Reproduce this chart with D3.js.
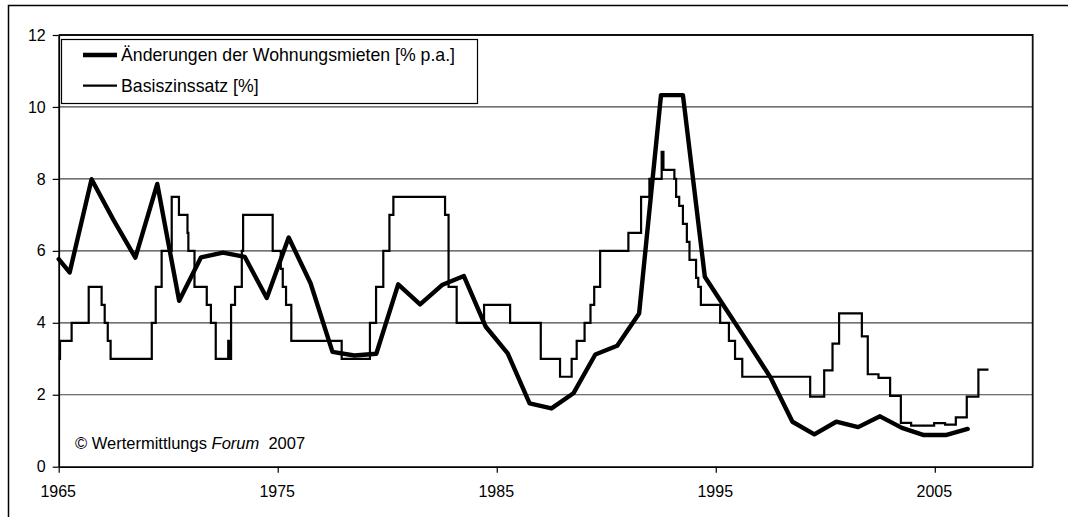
<!DOCTYPE html>
<html>
<head>
<meta charset="utf-8">
<script src="https://cdn.jsdelivr.net/npm/d3@7"></script>
<style>
  html, body { margin: 0; padding: 0; background: #fff; }
  svg { display: block; font-family: "Liberation Sans", Arial, sans-serif; }
</style>
</head>
<body>
<svg id="chart" width="1068" height="517"></svg>
<script>
// ---- Data ----
// Änderungen der Wohnungsmieten [% p.a.]
const rentYears = [1965.0, 1965.5, 1966.5, 1967.5, 1968.5, 1969.5, 1970.5, 1971.5, 1972.5, 1973.5,
  1974.5, 1975.5, 1976.5, 1977.5, 1978.5, 1979.5, 1980.5, 1981.5, 1982.5, 1983.5,
  1984.5, 1985.5, 1986.5, 1987.5, 1988.5, 1989.5, 1990.5, 1991.5, 1992.5, 1993.5,
  1994.5, 1995.5, 1996.5, 1997.5, 1998.5, 1999.5, 2000.5, 2001.5, 2002.5, 2003.5,
  2004.5, 2005.5, 2006.5];
const rentValues = [5.77, 5.40, 7.99, 6.86, 5.81, 7.86, 4.61, 5.82, 5.95, 5.83,
  4.69, 6.37, 5.10, 3.19, 3.09, 3.14, 5.07, 4.51, 5.05, 5.30,
  3.89, 3.15, 1.76, 1.62, 2.04, 3.12, 3.36, 4.26, 10.33, 10.33,
  5.28, 4.35, 3.42, 2.48, 1.25, 0.90, 1.25, 1.10, 1.40, 1.08,
  0.88, 0.88, 1.05];

// Basiszinssatz [%] (step series: value valid from date)
const rateDates = [1965.00, 1965.06, 1965.59, 1966.37, 1966.96, 1967.10, 1967.24, 1967.37, 1969.25, 1969.43,
  1969.70, 1970.16, 1970.49, 1970.88, 1970.92, 1971.20, 1971.76, 1971.95, 1972.17, 1972.74,
  1972.79, 1972.87, 1973.05, 1973.36, 1973.42, 1974.77, 1975.14, 1975.23, 1975.38, 1975.62,
  1977.92, 1979.21, 1979.49, 1979.82, 1980.10, 1980.28, 1982.64, 1982.80, 1983.17, 1984.42,
  1985.61, 1987.01, 1987.89, 1988.42, 1988.65, 1989.01, 1989.28, 1989.45, 1989.72, 1991.01,
  1991.59, 1991.97, 1992.53, 1992.61, 1993.11, 1993.19, 1993.33, 1993.50, 1993.68, 1993.80,
  1994.10, 1994.20, 1994.32, 1995.20, 1995.60, 1995.88, 1996.21, 1999.31, 1999.95, 2000.33,
  2000.63, 2001.67, 2001.94, 2002.43, 2002.96, 2003.45, 2003.92, 2004.97, 2005.47, 2005.96,
  2006.46, 2006.99, 2007.45];
const rateValues = [3.0, 3.5, 4.0, 5.0, 4.5, 4.0, 3.5, 3.0, 4.0, 5.0,
  6.0, 7.5, 7.0, 6.5, 6.0, 5.0, 4.5, 4.0, 3.0, 3.5,
  3.0, 4.5, 5.0, 6.0, 7.0, 6.0, 5.5, 5.0, 4.5, 3.5,
  3.0, 4.0, 5.0, 6.0, 7.0, 7.5, 7.0, 5.0, 4.0, 4.5,
  4.0, 3.0, 2.5, 3.0, 3.5, 4.0, 4.5, 5.0, 6.0, 6.5,
  7.5, 8.0, 8.75, 8.25, 8.0, 7.5, 7.25, 6.75, 6.25, 5.75,
  5.25, 5.0, 4.5, 4.0, 3.5, 3.0, 2.5, 1.95, 2.68, 3.42,
  4.26, 3.62, 2.57, 2.47, 1.97, 1.22, 1.14, 1.21, 1.17, 1.37,
  1.95, 2.70, 2.70];

const xTickYears = [1965, 1975, 1985, 1995, 2005];
const yTickValues = [0, 2, 4, 6, 8, 10, 12];
const legendLabels = ["Änderungen der Wohnungsmieten [% p.a.]", "Basiszinssatz [%]"];

// ---- Layout ----
const svg = d3.select("#chart");
const plot = { left: 58.7, top: 35, right: 1032.7, bottom: 466.7 };

const x = d3.scaleLinear().domain([1965, 2009.47]).range([plot.left, plot.right]);
const y = d3.scaleLinear().domain([0, 12]).range([plot.bottom, plot.top]);

// outer frame (only top and left edges visible)
svg.append("path")
  .attr("d", `M8.5,${517 + 5}V5.5H${1068 + 5}`)
  .attr("fill", "none").attr("stroke", "#000").attr("stroke-width", 1.5);

// gridlines
svg.append("g")
  .selectAll("line")
  .data(yTickValues.filter(v => v > 0 && v < 12))
  .join("line")
  .attr("x1", plot.left).attr("x2", plot.right)
  .attr("y1", d => y(d)).attr("y2", d => y(d))
  .attr("stroke", "#444").attr("stroke-width", 1.2);

// plot border top/right
svg.append("path")
  .attr("d", `M${plot.left},${y(12)}H${plot.right}V${plot.bottom}`)
  .attr("fill", "none").attr("stroke", "#111").attr("stroke-width", 1.8);

// axes
const xAxis = d3.axisBottom(x).tickValues(xTickYears).tickFormat(d3.format("d")).tickSize(6).tickSizeOuter(0);
const gx = svg.append("g").attr("transform", `translate(0,${plot.bottom})`).call(xAxis);
gx.select(".domain").attr("stroke", "#000").attr("stroke-width", 1.8);
gx.selectAll(".tick line").attr("stroke", "#000").attr("stroke-width", 1.2);
gx.selectAll(".tick text").attr("font-size", 16).attr("font-family", "Liberation Sans, Arial, sans-serif")
  .attr("fill", "#000").attr("y", 0).attr("dy", 0).attr("transform", "translate(-1,30.5)");

const yAxis = d3.axisLeft(y).tickValues(yTickValues).tickFormat(d3.format("d")).tickSize(6).tickSizeOuter(0);
const gy = svg.append("g").attr("transform", `translate(${plot.left},0)`).call(yAxis);
gy.select(".domain").attr("stroke", "#000").attr("stroke-width", 1.8);
gy.selectAll(".tick line").attr("stroke", "#000").attr("stroke-width", 1.2);
gy.selectAll(".tick text").attr("font-size", 16).attr("font-family", "Liberation Sans, Arial, sans-serif")
  .attr("fill", "#000").attr("x", -13);

// step series
const rateData = rateDates.map((d, i) => [d, rateValues[i]]);
svg.append("path")
  .datum(rateData)
  .attr("fill", "none").attr("stroke", "#000").attr("stroke-width", 2.2)
  .attr("d", d3.line().x(d => x(d[0])).y(d => y(d[1])).curve(d3.curveStepAfter));

// rent changes
const rentData = rentYears.map((d, i) => [d, rentValues[i]]);
svg.append("path")
  .datum(rentData)
  .attr("fill", "none").attr("stroke", "#000").attr("stroke-width", 4.4)
  .attr("stroke-linejoin", "round").attr("stroke-linecap", "round")
  .attr("d", d3.line().x(d => x(d[0])).y(d => y(d[1])));

// legend
const lg = svg.append("g");
lg.append("rect").attr("x", 61.5).attr("y", 39.5).attr("width", 416).attr("height", 64)
  .attr("fill", "#fff").attr("stroke", "#000").attr("stroke-width", 1.2);
const legendRows = [{ y: 55, w: 4.4 }, { y: 85.7, w: 2.2 }];
legendRows.forEach((r, i) => {
  lg.append("line").attr("x1", 83).attr("x2", 117).attr("y1", r.y).attr("y2", r.y)
    .attr("stroke", "#000").attr("stroke-width", r.w);
  lg.append("text").attr("x", 121).attr("y", r.y).attr("dy", "0.35em")
    .attr("font-size", 17.7).attr("fill", "#000").text(legendLabels[i]);
});

// copyright
const ct = svg.append("text").attr("x", 75).attr("y", 449).attr("font-size", 16.5).attr("fill", "#000");
ct.append("tspan").text("© Wertermittlungs ");
ct.append("tspan").attr("font-style", "italic").text("Forum");
ct.append("tspan").text("  2007").attr("xml:space", "preserve");
</script>
</body>
</html>
